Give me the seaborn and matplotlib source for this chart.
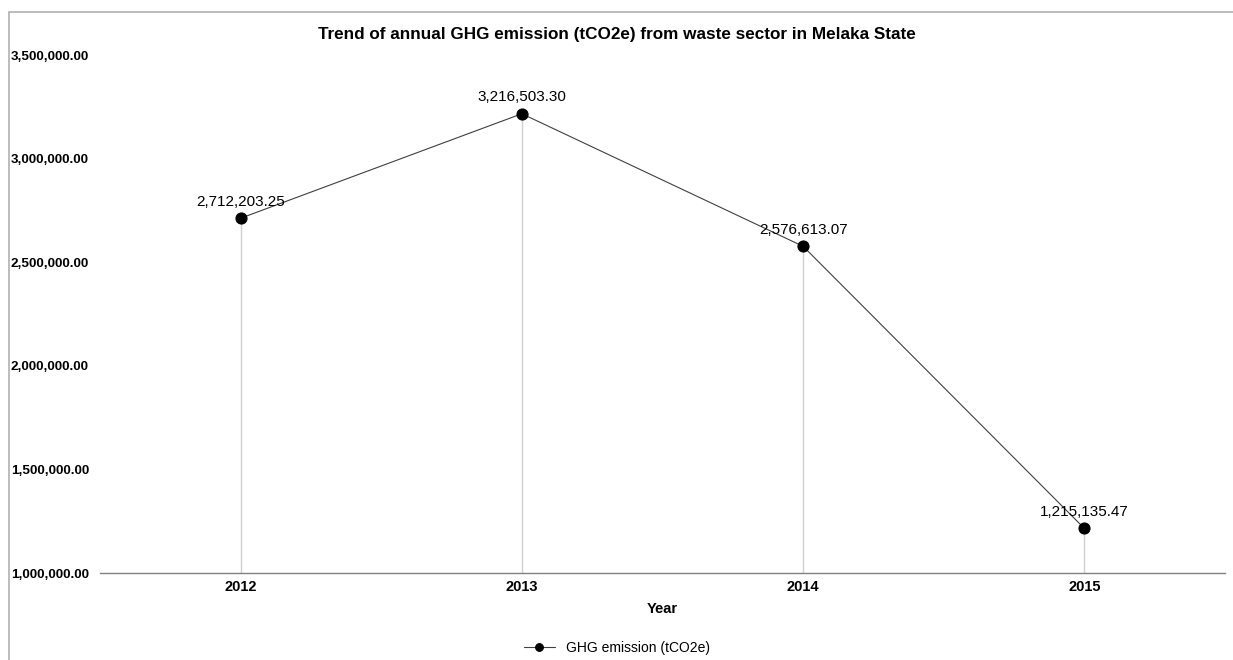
import pandas as pd
import seaborn as sns
import matplotlib.pyplot as plt
from matplotlib.patches import Rectangle
from matplotlib.ticker import FuncFormatter

sns.set_theme(style="white")
plt.rcParams['font.family'] = ['Liberation Sans', 'DejaVu Sans']

years = ['2012', '2013', '2014', '2015']
emissions = [2712203.25, 3216503.30, 2576613.07, 1215135.47]
series_name = 'GHG emission (tCO2e)'

df = pd.DataFrame({'Year': years, series_name: emissions})

fig = plt.figure(figsize=(12.33, 6.6), dpi=100)
ax = fig.add_axes([100 / 1233, 1 - 573 / 660, 1125 / 1233, (573 - 55) / 660])

# drop lines from each point to the axis
ax.vlines(df['Year'], 1000000, df[series_name], color='#d0d0d0', linewidth=1, zorder=1)

sns.lineplot(data=df, x='Year', y=series_name, ax=ax, color='#404040', linewidth=0.8,
             marker='o', markersize=8, markerfacecolor='black', markeredgecolor='black',
             label=series_name, sort=False, zorder=3)

for x, y in zip(df['Year'], df[series_name]):
    ax.annotate(f'{y:,.2f}', (x, y), xytext=(0, 7), textcoords='offset points',
                ha='center', va='bottom', fontsize=11, color='black')

ax.set_xlim(-0.5, 3.5)
ax.set_ylim(1000000, 3500000)
ax.set_yticks(range(1000000, 3500001, 500000))
ax.yaxis.set_major_formatter(FuncFormatter(lambda v, p: f'{v:,.2f}'))

for s in ['top', 'right', 'left']:
    ax.spines[s].set_visible(False)
ax.spines['bottom'].set_color('#808080')
ax.spines['bottom'].set_linewidth(1)
ax.tick_params(axis='both', length=0, labelsize=9.7, colors='black')
ax.tick_params(axis='y', pad=8)
ax.tick_params(axis='x', pad=5, labelsize=10.5)
for lbl in ax.get_xticklabels() + ax.get_yticklabels():
    lbl.set_fontweight('bold')

ax.set_xlabel('Year', fontsize=10.5, fontweight='bold', labelpad=6, color='black')
ax.set_ylabel('')
fig.suptitle('Trend of annual GHG emission (tCO2e) from waste sector in Melaka State',
             x=0.5, y=1 - 35 / 660, va='center', fontsize=12.3, fontweight='bold',
             color='black')

leg = ax.legend(loc='center', bbox_to_anchor=(617 / 1233, 1 - 648 / 660),
                bbox_transform=fig.transFigure, frameon=False, fontsize=10,
                handlelength=2.2, markerscale=0.7)
for t in leg.get_texts():
    t.set_color('black')

# outer chart frame
fig.patches.append(Rectangle((9 / 1233, -0.1), 1.2, 1 - 12 / 660 + 0.1,
                             transform=fig.transFigure, fill=False,
                             edgecolor='#b0b0b0', linewidth=1.2))

fig.savefig('out.png', dpi=100)
